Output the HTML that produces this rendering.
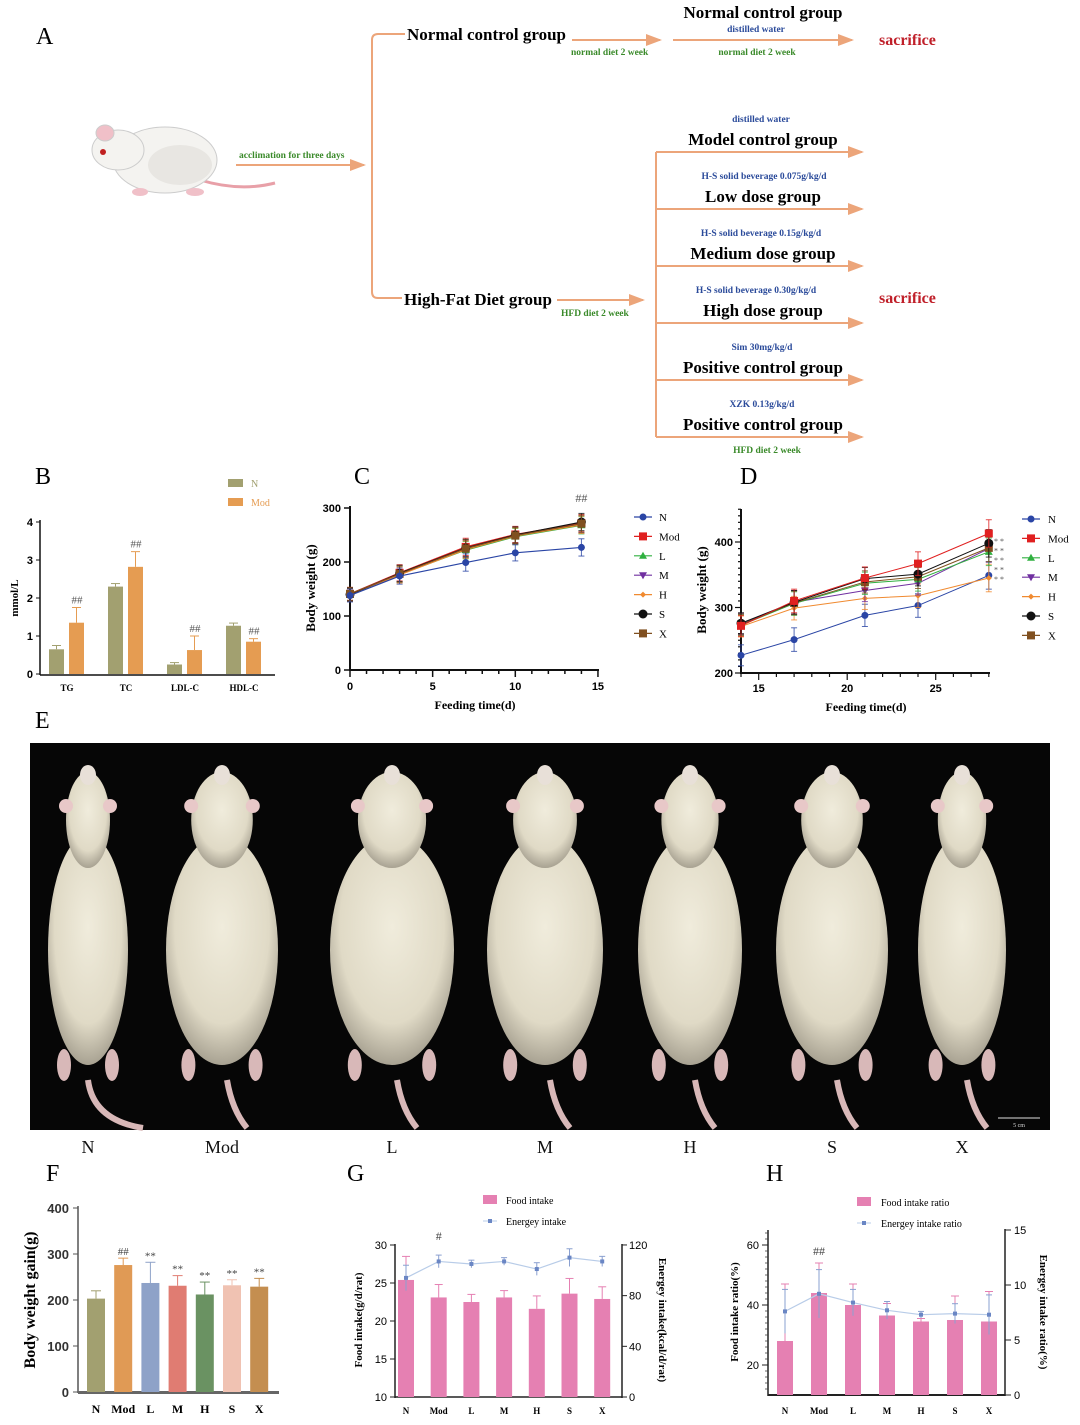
<!DOCTYPE html>
<html><head><meta charset="utf-8"><style>
html,body{margin:0;padding:0;background:#fff;}
svg{display:block;}
text{font-family:"Liberation Serif",serif;}
.sans{font-family:"Liberation Sans",sans-serif;}
</style></head><body>
<svg id="fig" xmlns="http://www.w3.org/2000/svg" width="1080" height="1425" viewBox="0 0 1080 1425">
<defs>
<marker id="ar" markerWidth="8" markerHeight="8" refX="7" refY="4" orient="auto"><path d="M0,1 L8,4 L0,7 z" fill="#eca57a"/></marker>
<radialGradient id="fur" cx="50%" cy="40%" r="60%"><stop offset="0" stop-color="#f0ecdc"/><stop offset="0.7" stop-color="#e0dac6"/><stop offset="1" stop-color="#a8a292"/></radialGradient>
</defs>
<!-- Panel A -->
<g font-weight="bold">
<text x="36" y="44" font-size="24" font-weight="normal">A</text>
<g>
<path d="M200,180 Q240,192 275,183" stroke="#e8a0a8" stroke-width="3" fill="none"/>
<ellipse cx="165" cy="160" rx="52" ry="33" fill="#f4f3f0" stroke="#ccc"/>
<ellipse cx="118" cy="150" rx="26" ry="20" fill="#f4f3f0" stroke="#ccc"/>
<ellipse cx="105" cy="133" rx="9" ry="8" fill="#f0c0c8" stroke="#ccc"/>
<circle cx="103" cy="152" r="3" fill="#c02020"/>
<ellipse cx="180" cy="165" rx="32" ry="20" fill="#e8e6e2"/>
<ellipse cx="140" cy="192" rx="8" ry="4" fill="#f0c0c8"/>
<ellipse cx="195" cy="192" rx="9" ry="4" fill="#f0c0c8"/>
</g>
<g stroke="#eca57a" stroke-width="2" fill="none">
<line x1="236" y1="165" x2="364" y2="165" marker-end="url(#ar)"/>
<path d="M405,34 L378,34 Q372,34 372,40 L372,292 Q372,298 378,298 L402,298"/>
<line x1="572" y1="40" x2="660" y2="40" marker-end="url(#ar)"/>
<line x1="673" y1="40" x2="852" y2="40" marker-end="url(#ar)"/>
<line x1="557" y1="300" x2="643" y2="300" marker-end="url(#ar)"/>
<line x1="656" y1="152" x2="656" y2="437"/>
<line x1="656" y1="152" x2="862" y2="152" marker-end="url(#ar)"/>
<line x1="656" y1="209" x2="862" y2="209" marker-end="url(#ar)"/>
<line x1="656" y1="266" x2="862" y2="266" marker-end="url(#ar)"/>
<line x1="656" y1="323" x2="862" y2="323" marker-end="url(#ar)"/>
<line x1="656" y1="380" x2="862" y2="380" marker-end="url(#ar)"/>
<line x1="656" y1="437" x2="862" y2="437" marker-end="url(#ar)"/>
</g>
<text x="239" y="158" font-size="9.5" fill="#3a8a2a">acclimation for three days</text>
<text x="407" y="40" font-size="17">Normal control group</text>
<text x="571" y="55" font-size="9.5" fill="#3a8a2a">normal diet 2 week</text>
<text x="763" y="18" font-size="17" text-anchor="middle">Normal control group</text>
<text x="756" y="32" font-size="9.5" fill="#2a4a9a" text-anchor="middle">distilled water</text>
<text x="757" y="55" font-size="9.5" fill="#3a8a2a" text-anchor="middle">normal diet 2 week</text>
<text x="879" y="45" font-size="16" fill="#c0202a">sacrifice</text>
<text x="404" y="305" font-size="17">High-Fat Diet group</text>
<text x="561" y="316" font-size="9.5" fill="#3a8a2a">HFD diet 2 week</text>
<text x="879" y="303" font-size="16" fill="#c0202a">sacrifice</text>
<g text-anchor="middle">
<text x="761" y="122" font-size="9.5" fill="#2a4a9a">distilled water</text>
<text x="763" y="145" font-size="17">Model control group</text>
<text x="764" y="179" font-size="9.5" fill="#2a4a9a">H-S solid beverage 0.075g/kg/d</text>
<text x="763" y="202" font-size="17">Low dose group</text>
<text x="761" y="236" font-size="9.5" fill="#2a4a9a">H-S solid beverage 0.15g/kg/d</text>
<text x="763" y="259" font-size="17">Medium dose group</text>
<text x="756" y="293" font-size="9.5" fill="#2a4a9a">H-S solid beverage 0.30g/kg/d</text>
<text x="763" y="316" font-size="17">High dose group</text>
<text x="762" y="350" font-size="9.5" fill="#2a4a9a">Sim 30mg/kg/d</text>
<text x="763" y="373" font-size="17">Positive control group</text>
<text x="762" y="407" font-size="9.5" fill="#2a4a9a">XZK 0.13g/kg/d</text>
<text x="763" y="430" font-size="17">Positive control group</text>
<text x="767" y="453" font-size="9.5" fill="#3a8a2a">HFD diet 2 week</text>
</g>
</g>
<!-- panel labels -->
<text x="35" y="484" font-size="24">B</text>
<text x="354" y="484" font-size="24">C</text>
<text x="740" y="484" font-size="24">D</text>
<text x="35" y="728" font-size="24">E</text>
<text x="46" y="1181" font-size="24">F</text>
<text x="347" y="1181" font-size="24">G</text>
<text x="766" y="1181" font-size="24">H</text>
<!-- Panel E photo -->
<g>
<rect x="30" y="743" width="1020" height="387" fill="#060606"/>
<g id="mice"></g>
<line x1="998" y1="1118" x2="1040" y2="1118" stroke="#ddd" stroke-width="1"/>
<text x="1019" y="1127" font-size="6" fill="#ddd" text-anchor="middle">5 cm</text>
</g>
<g id="charts"></g>
</svg>
<script>
const NS='http://www.w3.org/2000/svg';
const root=document.getElementById('charts');
function el(tag,a,p){const e=document.createElementNS(NS,tag);for(const k in a)e.setAttribute(k,a[k]);(p||root).appendChild(e);return e;}
function txt(x,y,s,a,p){const t=el('text',Object.assign({x:x,y:y},a||{}),p);t.textContent=s;return t;}

/* ---------- DATA ---------- */
const bCats=['TG','TC','LDL-C','HDL-C'];
const bN=[0.65,2.3,0.25,1.27];
const bNErr=[0.1,0.08,0.05,0.07];
const bMod=[1.35,2.82,0.63,0.85];
const bModErr=[0.4,0.4,0.37,0.08];
const bTicks=[0,1,2,3,4];
const groups=['N','Mod','L','M','H','S','X'];
const cDays=[0,3,7,10,14];
const cN=[138,174,199,217,227];
const cMod=[141,180,228,251,272];
const cL=[139,177,222,247,268];
const cM=[140,178,224,249,270];
const cH=[139,176,223,248,269];
const cS=[140,179,226,250,274];
const cX=[141,178,225,249,271];
const cErr=[12,15,16,15,16];
const cXTicks=[0,5,10,15];
const cYTicks=[0,100,200,300];
const dDays=[14,17,21,24,28];
const dN=[227,251,288,303,349];
const dMod=[272,310,345,367,413];
const dL=[273,306,337,343,385];
const dM=[275,308,326,337,390];
const dH=[271,299,314,318,345];
const dS=[276,308,344,351,398];
const dX=[274,307,339,347,391];
const dErr=[16,18,17,18,21];
const dXTicks=[15,20,25];
const dYTicks=[200,300,400];
const fVals=[203,276,237,231,212,232,229];
const fErr=[17,15,45,22,27,12,18];
const fSig=['','##','**','**','**','**','**'];
const fTicks=[0,100,200,300,400];
const gFood=[25.4,23.1,22.5,23.1,21.6,23.6,22.9];
const gFoodErr=[3.1,1.7,1.0,0.9,1.7,2.0,1.6];
const gEnergy=[94,107,105,107,101,110,107];
const gEnergyErr=[10,5,3,3,5,7,4];
const gLTicks=[10,15,20,25,30];
const gRTicks=[0,40,80,120];
const hFood=[28,44,40,36.5,34.5,35,34.5];
const hFoodErr=[19,10,7,4,1,8,10];
const hEnergy=[7.6,9.2,8.4,7.7,7.3,7.4,7.3];
const hEnergyErr=[2,2.2,1.2,0.8,0.3,0.9,1.8];
const hLTicks=[20,40,60];
const hRTicks=[0,5,10,15];

/* ---------- PANEL B ---------- */
const gB=el('g',{});


const yB=v=>674-v*38;
const xB=i=>67+i*59;
el('line',{x1:40,y1:520,x2:40,y2:675,stroke:'#111','stroke-width':1.5},gB);
el('line',{x1:40,y1:675,x2:275,y2:675,stroke:'#111','stroke-width':1.5},gB);
bTicks.forEach(t=>{
  el('line',{x1:36,y1:yB(t),x2:40,y2:yB(t),stroke:'#111'},gB);
  const tl=txt(33,yB(t)+4,String(t),{'font-size':11,'font-weight':'bold','text-anchor':'end',class:'sans'},gB);
  
});
bCats.forEach((c,i)=>{
  const cx=xB(i);
  [[bN,bNErr,'#a2a070',-18],[bMod,bModErr,'#e59c52',2]].forEach(s=>{
    const v=s[0][i],e=s[1][i];
    const r=el('rect',{x:cx+s[3],y:yB(v),width:15,height:yB(0)-yB(v),fill:s[2]},gB);
    
    el('line',{x1:cx+s[3]+7.5,y1:yB(v),x2:cx+s[3]+7.5,y2:yB(v+e),stroke:s[2]},gB);
    el('line',{x1:cx+s[3]+3,y1:yB(v+e),x2:cx+s[3]+12,y2:yB(v+e),stroke:s[2]},gB);
  });
  const sg=txt(cx+10,yB(bMod[i]+bModErr[i])-4,'##',{'font-size':11,'text-anchor':'middle',fill:'#555'},gB);
  
  const lb=txt(cx,691,c,{'font-size':9,'font-weight':'bold','text-anchor':'middle'},gB);
  
});
const bYT=txt(0,0,'mmol/L',{'font-size':11,'font-weight':'bold','text-anchor':'middle',transform:'translate(18,598) rotate(-90)'},gB);

el('rect',{x:228,y:479,width:15,height:8,fill:'#a2a070'},gB);
const bl1=txt(251,487,'N',{'font-size':10,fill:'#a2a070'},gB);

el('rect',{x:228,y:498,width:15,height:8,fill:'#e59c52'},gB);
const bl2=txt(251,506,'Mod',{'font-size':10,fill:'#e59c52'},gB);


/* ---------- line chart helper ---------- */
const colors=['#2a45a5','#e02020','#30b040','#7030a0','#f08a30','#111111','#805020'];
const shapes=['circle','square','tri','dtri','diamond','bigcircle','square'];
function marker(g,x,y,k,c){
  const s=shapes[k];
  if(s==='circle')return el('circle',{cx:x,cy:y,r:3.5,fill:c},g);
  if(s==='bigcircle')return el('circle',{cx:x,cy:y,r:4.5,fill:c},g);
  if(s==='square')return el('rect',{x:x-4,y:y-4,width:8,height:8,fill:c},g);
  if(s==='tri')return el('path',{d:`M${x},${y-4}L${x+4},${y+3}L${x-4},${y+3}z`,fill:c},g);
  if(s==='dtri')return el('path',{d:`M${x},${y+4}L${x+4},${y-3}L${x-4},${y-3}z`,fill:c},g);
  return el('path',{d:`M${x},${y-3}L${x+3},${y}L${x},${y+3}L${x-3},${y}z`,fill:c},g);
}

/* ---------- PANEL C ---------- */
const gC=el('g',{});


const xC=d=>350+d*16.53;
const yC=v=>670-v*0.54;
el('line',{x1:350,y1:506,x2:350,y2:671,stroke:'#111','stroke-width':2},gC);
el('line',{x1:349,y1:670,x2:599,y2:670,stroke:'#111','stroke-width':2},gC);
for(let d=0;d<=15;d++){el('line',{x1:xC(d),y1:670,x2:xC(d),y2:cXTicks.includes(d)?677:674,stroke:'#111','stroke-width':1.5},gC);}
cXTicks.forEach(t=>{const l=txt(xC(t),690,String(t),{'font-size':11,'font-weight':'bold','text-anchor':'middle',class:'sans'},gC);});
cYTicks.forEach(t=>{el('line',{x1:344,y1:yC(t),x2:350,y2:yC(t),stroke:'#111','stroke-width':1.5},gC);const l=txt(341,yC(t)+4,String(t),{'font-size':11,'font-weight':'bold','text-anchor':'end',class:'sans'},gC);});
const cSeries=[cN,cMod,cL,cM,cH,cS,cX];
[1,2,3,4,5,6,0].forEach(k=>{
  const vals=cSeries[k];
  const pl=el('polyline',{points:vals.map((v,i)=>xC(cDays[i])+','+yC(v)).join(' '),fill:'none',stroke:colors[k],'stroke-width':1.2},gC);
  
  vals.forEach((v,i)=>{
    const x=xC(cDays[i]);
    el('line',{x1:x,y1:yC(v-cErr[i]),x2:x,y2:yC(v+cErr[i]),stroke:colors[k],'stroke-width':1,opacity:0.8},gC);
    el('line',{x1:x-3,y1:yC(v+cErr[i]),x2:x+3,y2:yC(v+cErr[i]),stroke:colors[k],opacity:0.8},gC);
    el('line',{x1:x-3,y1:yC(v-cErr[i]),x2:x+3,y2:yC(v-cErr[i]),stroke:colors[k],opacity:0.8},gC);
    const m=marker(gC,x,yC(v),k,colors[k]);
    
  });
});
const cSig=txt(xC(14),502,'##',{'font-size':12,'text-anchor':'middle',fill:'#555'},gC);

const cYT=txt(0,0,'Body weight (g)',{'font-size':13,'font-weight':'bold','text-anchor':'middle',transform:'translate(315,588) rotate(-90)'},gC);

const cXT=txt(475,709,'Feeding time(d)',{'font-size':12,'font-weight':'bold','text-anchor':'middle'},gC);

groups.forEach((gname,k)=>{
  const y=517+k*19.4;
  el('line',{x1:634,y1:y,x2:652,y2:y,stroke:colors[k],'stroke-width':1.2},gC);
  marker(gC,643,y,k,colors[k]);
  const l=txt(659,y+4,gname,{'font-size':11},gC);
  
});

/* ---------- PANEL D ---------- */
const gD=el('g',{});


const xD=d=>741+(d-14)*17.7;
const yD=v=>673-(v-200)*0.655;
el('line',{x1:741,y1:509,x2:741,y2:674,stroke:'#111','stroke-width':2},gD);
el('line',{x1:740,y1:673,x2:990,y2:673,stroke:'#111','stroke-width':2},gD);
for(let v=200;v<=450;v+=10){el('line',{x1:v%100===0?735:738,y1:yD(v),x2:741,y2:yD(v),stroke:'#111','stroke-width':1.2},gD);}
for(let d=14;d<=28;d++){el('line',{x1:xD(d),y1:673,x2:xD(d),y2:dXTicks.includes(d)?680:677,stroke:'#111','stroke-width':1.2},gD);}
dXTicks.forEach(t=>{const l=txt(xD(t),692,String(t),{'font-size':11,'font-weight':'bold','text-anchor':'middle',class:'sans'},gD);});
dYTicks.forEach(t=>{const l=txt(733,yD(t)+4,String(t),{'font-size':11,'font-weight':'bold','text-anchor':'end',class:'sans'},gD);});
const dSeries=[dN,dMod,dL,dM,dH,dS,dX];
[0,4,3,2,6,5,1].forEach(k=>{
  const vals=dSeries[k];
  const pl=el('polyline',{points:vals.map((v,i)=>xD(dDays[i])+','+yD(v)).join(' '),fill:'none',stroke:colors[k],'stroke-width':1},gD);
  
  vals.forEach((v,i)=>{
    const x=xD(dDays[i]);
    el('line',{x1:x,y1:yD(v-dErr[i]),x2:x,y2:yD(v+dErr[i]),stroke:colors[k],'stroke-width':1,opacity:0.8},gD);
    el('line',{x1:x-3,y1:yD(v+dErr[i]),x2:x+3,y2:yD(v+dErr[i]),stroke:colors[k],opacity:0.8},gD);
    el('line',{x1:x-3,y1:yD(v-dErr[i]),x2:x+3,y2:yD(v-dErr[i]),stroke:colors[k],opacity:0.8},gD);
    const m=marker(gD,x,yD(v),k,colors[k]);
    
  });
});
for(let j=0;j<5;j++){const s=txt(994,544+j*9.5,'* *',{'font-size':8,fill:'#555'},gD);}
const dYT=txt(0,0,'Body weight (g)',{'font-size':13,'font-weight':'bold','text-anchor':'middle',transform:'translate(706,590) rotate(-90)'},gD);

const dXT=txt(866,711,'Feeding time(d)',{'font-size':12,'font-weight':'bold','text-anchor':'middle'},gD);

groups.forEach((gname,k)=>{
  const y=519+k*19.4;
  el('line',{x1:1022,y1:y,x2:1040,y2:y,stroke:colors[k],'stroke-width':1.2},gD);
  marker(gD,1031,y,k,colors[k]);
  const l=txt(1048,y+4,gname,{'font-size':11},gD);
  
});

/* ---------- PANEL E mice ---------- */
const mice=document.getElementById('mice');
const mouseX=[88,222,392,545,690,832,962];
const mouseW=[40,56,62,58,52,56,44];
mouseX.forEach((cx,i)=>{
  const w=mouseW[i];
  const g=el('g',{},mice);
  
  
  el('path',{d:i===0?`M${cx},1080 Q${cx+5},1120 ${cx+55},1128`:`M${cx+5},1080 Q${cx+10},1110 ${cx+25},1128`,stroke:'#d8b8b8','stroke-width':6,fill:'none'},g);
  el('ellipse',{cx:cx,cy:950,rx:w,ry:115,fill:'url(#fur)'},g);
  el('ellipse',{cx:cx-w*0.6,cy:1065,rx:7,ry:16,fill:'#d8b8b8'},g);
  el('ellipse',{cx:cx+w*0.6,cy:1065,rx:7,ry:16,fill:'#d8b8b8'},g);
  el('ellipse',{cx:cx,cy:820,rx:w*0.55,ry:48,fill:'url(#fur)'},g);
  el('ellipse',{cx:cx-w*0.55,cy:806,rx:7,ry:7,fill:'#e8c8c8'},g);
  el('ellipse',{cx:cx+w*0.55,cy:806,rx:7,ry:7,fill:'#e8c8c8'},g);
  el('ellipse',{cx:cx,cy:775,rx:8,ry:10,fill:'#e8e0d8'},g);
  const l=txt(cx,1153,groups[i],{'font-size':18,'text-anchor':'middle',fill:'#111'},root);
  
});

/* ---------- PANEL F ---------- */
const gF=el('g',{});


const fColors=['#a2a070','#e09a55','#8ea2c8','#e07c72','#6a9262','#f0c2b2','#c48e50'];
const yF=v=>1392-v*0.46;
const xF=i=>96+i*27.2;
el('line',{x1:78,y1:1206,x2:78,y2:1393,stroke:'#555','stroke-width':1.5},gF);
el('line',{x1:78,y1:1392.5,x2:279,y2:1392.5,stroke:'#666','stroke-width':3},gF);
fTicks.forEach(t=>{el('line',{x1:73,y1:yF(t),x2:78,y2:yF(t),stroke:'#555'},gF);const l=txt(69,yF(t)+5,String(t),{'font-size':13,'font-weight':'bold','text-anchor':'end',class:'sans',fill:'#333'},gF);});
fVals.forEach((v,i)=>{
  const x=xF(i),c=fColors[i];
  const r=el('rect',{x:x-9,y:yF(v),width:18,height:yF(0)-yF(v),fill:c},gF);
  
  el('line',{x1:x,y1:yF(v),x2:x,y2:yF(v+fErr[i]),stroke:c},gF);
  el('line',{x1:x-5,y1:yF(v+fErr[i]),x2:x+5,y2:yF(v+fErr[i]),stroke:c},gF);
  if(fSig[i]){const s=txt(x,yF(v+fErr[i])-3,fSig[i],{'font-size':11,'text-anchor':'middle',fill:'#444'},gF);}
  const l=txt(x,1413,groups[i],{'font-size':12,'font-weight':'bold','text-anchor':'middle'},gF);
  
});
const fYT=txt(0,0,'Body weight gain(g)',{'font-size':16,'font-weight':'bold','text-anchor':'middle',transform:'translate(35,1300) rotate(-90)'},gF);


/* ---------- PANEL G ---------- */
const gG=el('g',{});


const yGL=v=>1397-(v-10)*7.6;
const yGR=v=>1397-v*1.267;
const xG=i=>406+i*32.7;
el('line',{x1:395,y1:1244,x2:395,y2:1398,stroke:'#222','stroke-width':1.5},gG);
el('line',{x1:622,y1:1244,x2:622,y2:1398,stroke:'#222','stroke-width':1.5},gG);
el('line',{x1:395,y1:1397,x2:622,y2:1397,stroke:'#222','stroke-width':1.5},gG);
gLTicks.forEach(t=>{el('line',{x1:390,y1:yGL(t),x2:395,y2:yGL(t),stroke:'#222'},gG);const l=txt(387,yGL(t)+4,String(t),{'font-size':11,'text-anchor':'end',class:'sans'},gG);});
gRTicks.forEach(t=>{el('line',{x1:622,y1:yGR(t),x2:627,y2:yGR(t),stroke:'#222'},gG);const l=txt(629,yGR(t)+4,String(t),{'font-size':11,class:'sans'},gG);});
gFood.forEach((v,i)=>{
  const x=xG(i);
  const r=el('rect',{x:x-8,y:yGL(v),width:16,height:yGL(10)-yGL(v),fill:'#e580b2'},gG);
  
  el('line',{x1:x,y1:yGL(v),x2:x,y2:yGL(v+gFoodErr[i]),stroke:'#e580b2'},gG);
  el('line',{x1:x-4,y1:yGL(v+gFoodErr[i]),x2:x+4,y2:yGL(v+gFoodErr[i]),stroke:'#e580b2'},gG);
  const l=txt(x,1414,groups[i],{'font-size':9,'font-weight':'bold','text-anchor':'middle'},gG);
  
});
const gLine=el('polyline',{points:gEnergy.map((v,i)=>xG(i)+','+yGR(v)).join(' '),fill:'none',stroke:'#b8cce8','stroke-width':1.2},gG);

gEnergy.forEach((v,i)=>{
  const x=xG(i);
  el('line',{x1:x,y1:yGR(v-gEnergyErr[i]),x2:x,y2:yGR(v+gEnergyErr[i]),stroke:'#8aa0d0'},gG);
  el('line',{x1:x-3,y1:yGR(v+gEnergyErr[i]),x2:x+3,y2:yGR(v+gEnergyErr[i]),stroke:'#8aa0d0'},gG);
  const m=el('rect',{x:x-2,y:yGR(v)-2,width:4,height:4,fill:'#6a86c4'},gG);
  
});
const gSig=txt(xG(1),1240,'#',{'font-size':12,'text-anchor':'middle',fill:'#444'},gG);

const gYL=txt(0,0,'Food intake(g/d/rat)',{'font-size':11,'font-weight':'bold','text-anchor':'middle',transform:'translate(362,1320) rotate(-90)'},gG);

const gYR=txt(0,0,'Energey intake(kcal/d/rat)',{'font-size':11,'font-weight':'bold','text-anchor':'middle',transform:'translate(659,1320) rotate(90)'},gG);

el('rect',{x:483,y:1195,width:14,height:9,fill:'#e580b2'},gG);
const gl1=txt(506,1204,'Food intake',{'font-size':10},gG);

el('line',{x1:483,y1:1221,x2:497,y2:1221,stroke:'#b8cce8'},gG);
el('rect',{x:488,y:1219,width:4,height:4,fill:'#6a86c4'},gG);
const gl2=txt(506,1225,'Energey intake',{'font-size':10},gG);


/* ---------- PANEL H ---------- */
const gH=el('g',{});


const yHL=v=>1395-(v-10)*3;
const yHR=v=>1395-v*11;
const xH=i=>785+i*34;
el('line',{x1:768,y1:1230,x2:768,y2:1396,stroke:'#222','stroke-width':1.5},gH);
el('line',{x1:1005,y1:1229,x2:1005,y2:1396,stroke:'#222','stroke-width':1.5},gH);
el('line',{x1:768,y1:1395,x2:1005,y2:1395,stroke:'#222','stroke-width':2},gH);
for(let v=12;v<=65;v+=2){el('line',{x1:765,y1:yHL(v),x2:768,y2:yHL(v),stroke:'#444','stroke-width':0.8},gH);}
hLTicks.forEach(t=>{el('line',{x1:762,y1:yHL(t),x2:768,y2:yHL(t),stroke:'#222'},gH);const l=txt(759,yHL(t)+4,String(t),{'font-size':11,'text-anchor':'end',class:'sans'},gH);});
hRTicks.forEach(t=>{el('line',{x1:1005,y1:yHR(t),x2:1011,y2:yHR(t),stroke:'#222'},gH);const l=txt(1014,yHR(t)+4,String(t),{'font-size':11,class:'sans'},gH);});
hFood.forEach((v,i)=>{
  const x=xH(i);
  const r=el('rect',{x:x-8,y:yHL(v),width:16,height:yHL(10)-yHL(v),fill:'#e580b2'},gH);
  
  el('line',{x1:x,y1:yHL(v),x2:x,y2:yHL(v+hFoodErr[i]),stroke:'#e580b2'},gH);
  el('line',{x1:x-4,y1:yHL(v+hFoodErr[i]),x2:x+4,y2:yHL(v+hFoodErr[i]),stroke:'#e580b2'},gH);
  const l=txt(x,1414,groups[i],{'font-size':9,'font-weight':'bold','text-anchor':'middle'},gH);
  
});
const hLine=el('polyline',{points:hEnergy.map((v,i)=>xH(i)+','+yHR(v)).join(' '),fill:'none',stroke:'#b8cce8','stroke-width':1.2},gH);

hEnergy.forEach((v,i)=>{
  const x=xH(i);
  el('line',{x1:x,y1:yHR(v-hEnergyErr[i]),x2:x,y2:yHR(v+hEnergyErr[i]),stroke:'#8aa0d0'},gH);
  el('line',{x1:x-3,y1:yHR(v+hEnergyErr[i]),x2:x+3,y2:yHR(v+hEnergyErr[i]),stroke:'#8aa0d0'},gH);
  const m=el('rect',{x:x-2,y:yHR(v)-2,width:4,height:4,fill:'#6a86c4'},gH);
  
});
const hSig=txt(xH(1),1255,'##',{'font-size':12,'text-anchor':'middle',fill:'#444'},gH);

const hYL=txt(0,0,'Food intake ratio(%)',{'font-size':11,'font-weight':'bold','text-anchor':'middle',transform:'translate(738,1312) rotate(-90)'},gH);

const hYR=txt(0,0,'Energey intake ratio(%)',{'font-size':11,'font-weight':'bold','text-anchor':'middle',transform:'translate(1040,1312) rotate(90)'},gH);

el('rect',{x:857,y:1197,width:14,height:9,fill:'#e580b2'},gH);
const hl1=txt(881,1206,'Food intake ratio',{'font-size':10},gH);

el('line',{x1:857,y1:1223,x2:871,y2:1223,stroke:'#b8cce8'},gH);
el('rect',{x:862,y:1221,width:4,height:4,fill:'#6a86c4'},gH);
const hl2=txt(881,1227,'Energey intake ratio',{'font-size':10},gH);

</script>
</body></html>
